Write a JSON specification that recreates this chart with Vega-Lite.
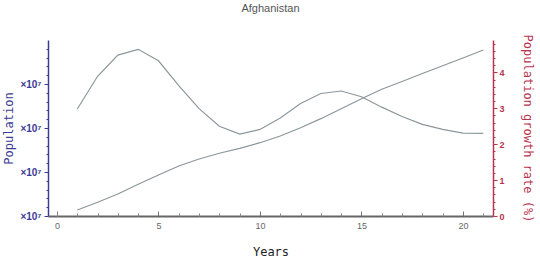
{
  "$schema": "https://vega.github.io/schema/vega-lite/v6.json",
  "autosize": {"type": "none"},
  "width": 445,
  "height": 176,
  "padding": {"left": 48, "top": 40, "right": 47, "bottom": 45},
  "background": "white",
  "title": {"text": "Afghanistan", "font": "Liberation Sans", "fontSize": 11, "fontWeight": "normal", "color": "#555555", "offset": 20, "anchor": "middle"},
  "config": {"view": {"stroke": null}},
  "data": {"values": [
    {"year": 1, "pop": 15680000, "rate": 2.98},
    {"year": 2, "pop": 16560000, "rate": 3.89},
    {"year": 3, "pop": 17500000, "rate": 4.48},
    {"year": 4, "pop": 18600000, "rate": 4.64},
    {"year": 5, "pop": 19660000, "rate": 4.32},
    {"year": 6, "pop": 20680000, "rate": 3.63},
    {"year": 7, "pop": 21480000, "rate": 2.99},
    {"year": 8, "pop": 22130000, "rate": 2.50},
    {"year": 9, "pop": 22690000, "rate": 2.28},
    {"year": 10, "pop": 23330000, "rate": 2.41},
    {"year": 11, "pop": 24090000, "rate": 2.73},
    {"year": 12, "pop": 25030000, "rate": 3.13},
    {"year": 13, "pop": 26060000, "rate": 3.41},
    {"year": 14, "pop": 27190000, "rate": 3.48},
    {"year": 15, "pop": 28330000, "rate": 3.32},
    {"year": 16, "pop": 29400000, "rate": 3.03},
    {"year": 17, "pop": 30280000, "rate": 2.77},
    {"year": 18, "pop": 31200000, "rate": 2.55},
    {"year": 19, "pop": 32080000, "rate": 2.41},
    {"year": 20, "pop": 32950000, "rate": 2.31},
    {"year": 21, "pop": 33860000, "rate": 2.30}
  ]},
  "layer": [
    {
      "mark": {"type": "line", "color": "#8c979c", "strokeWidth": 1.2},
      "encoding": {
        "x": {"field": "year", "type": "quantitative", "scale": {"domain": [-0.443, 21.48], "nice": false, "zero": false},
          "axis": {"orient": "bottom", "values": [0, 5, 10, 15, 20], "title": "Years", "titleFont": "DejaVu Sans Mono", "titleFontSize": 12, "titleFontWeight": "normal", "titleColor": "#222222", "titlePadding": 16,
            "labelFont": "Liberation Sans", "labelFontSize": 9, "labelColor": "#666666", "labelPadding": 10, "tickSize": -5, "tickColor": "#777777", "tickWidth": 1, "domainColor": "#666666", "domainWidth": 2, "grid": false}},
        "y": {"field": "pop", "type": "quantitative", "scale": {"domain": [15000000, 35000000], "nice": false, "zero": false},
          "axis": {"orient": "left", "values": [15000000, 20000000, 25000000, 30000000], "labelExpr": "'×10⁷'", "title": "Population", "titleFont": "DejaVu Sans Mono", "titleFontSize": 12, "titleFontWeight": "normal", "titleColor": "#3b3b96", "titlePadding": 4,
            "labelFont": "Liberation Sans", "labelFontSize": 10, "labelFontWeight": "bold", "labelColor": "#3b3b96", "labelPadding": 3, "tickSize": 4, "tickColor": "#3b3b96", "domainColor": "#3b3b96", "domainWidth": 1.5, "grid": false}}
      }
    },
    {
      "mark": {"type": "line", "strokeOpacity": 0},
      "encoding": {
        "x": {"field": "year", "type": "quantitative", "scale": {"domain": [-0.443, 21.48], "nice": false, "zero": false},
          "axis": {"orient": "bottom", "values": [0,1,2,3,4,6,7,8,9,11,12,13,14,16,17,18,19,21], "labels": false, "title": null, "tickSize": -3, "tickColor": "#888888", "domain": false, "grid": false}},
        "y": {"field": "pop", "type": "quantitative", "scale": {"domain": [15000000, 35000000], "nice": false, "zero": false},
          "axis": {"orient": "left", "values": [16000000,17000000,18000000,19000000,21000000,22000000,23000000,24000000,26000000,27000000,28000000,29000000,31000000,32000000,33000000,34000000], "labels": false, "title": null, "tickSize": 2, "tickColor": "#3b3b96", "domain": false, "grid": false}}
      }
    },
    {
      "mark": {"type": "line", "color": "#8c979c", "strokeWidth": 1.2},
      "encoding": {
        "x": {"field": "year", "type": "quantitative", "scale": {"domain": [-0.443, 21.48], "nice": false, "zero": false}, "axis": null},
        "y": {"field": "rate", "type": "quantitative", "scale": {"domain": [0, 4.9], "nice": false, "zero": false},
          "axis": {"orient": "right", "values": [0, 1, 2, 3, 4], "title": "Population growth rate (%)", "titleFont": "DejaVu Sans Mono", "titleFontSize": 12, "titleFontWeight": "normal", "titleColor": "#b8334f", "titlePadding": 16,
            "labelFont": "Liberation Sans", "labelFontSize": 9, "labelFontWeight": "bold", "labelColor": "#b8334f", "labelPadding": 2, "tickSize": 4, "tickColor": "#b8334f", "domainColor": "#b8334f", "domainWidth": 1.5, "grid": false}}
      }
    },
    {
      "mark": {"type": "line", "strokeOpacity": 0},
      "encoding": {
        "x": {"field": "year", "type": "quantitative", "scale": {"domain": [-0.443, 21.48], "nice": false, "zero": false}, "axis": null},
        "y": {"field": "rate", "type": "quantitative", "scale": {"domain": [0, 4.9], "nice": false, "zero": false},
          "axis": {"orient": "right", "values": [0.2,0.4,0.6,0.8,1.2,1.4,1.6,1.8,2.2,2.4,2.6,2.8,3.2,3.4,3.6,3.8,4.2,4.4,4.6,4.8], "labels": false, "title": null, "tickSize": 2, "tickColor": "#b8334f", "domain": false, "grid": false}}
      }
    }
  ],
  "resolve": {"scale": {"y": "independent"}, "axis": {"y": "independent", "x": "independent"}}
}
